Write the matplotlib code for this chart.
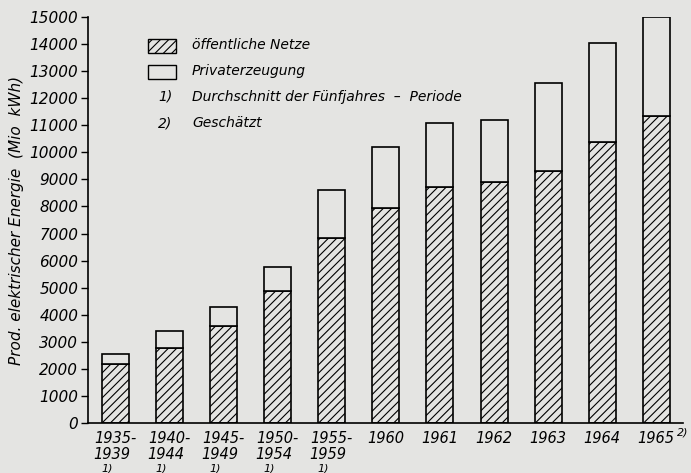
import matplotlib
matplotlib.use("Agg")
import matplotlib.pyplot as plt
from matplotlib.patches import Rectangle

periods = ["1935-\n1939\n1)", "1940-\n1944\n1)", "1945-\n1949\n1)", "1950-\n1954\n1)",
           "1955-\n1959\n1)", "1960", "1961", "1962", "1963", "1964", "1965"]
public = [2170, 2780, 3570, 4890, 6820, 7930, 8730, 8890, 9320, 10400, 11350]
total = [2550, 3390, 4270, 5770, 8610, 10200, 11070, 11190, 12560, 14030, 15000]
private = [t - p for t, p in zip(total, public)]
yticks = list(range(0, 15001, 1000))

bg = "#e4e4e2"
plt.rcParams["font.family"] = "DejaVu Sans"
plt.rcParams["font.style"] = "italic"
plt.rcParams["hatch.linewidth"] = 0.8

fig = plt.figure(figsize=(6.91, 4.73), dpi=100, facecolor=bg)
ax = fig.add_axes([0.1274, 0.1057, 0.8606, 0.8583], facecolor=bg)

x = list(range(len(periods)))
ax.bar(x, public, width=0.5, color=bg, edgecolor="black", hatch="////", linewidth=1.2)
ax.bar(x, private, bottom=public, width=0.5, color=bg, edgecolor="black", linewidth=1.2)

ax.set_xlim(-0.51, 10.49)
ax.set_ylim(0, 15000)
ax.set_yticks(yticks)
ax.set_yticklabels([str(v) for v in yticks], fontsize=11)
ax.set_xticks(x)
ax.set_xticklabels([p.split("\n")[0] for p in periods], fontsize=10.5)
ax.tick_params(axis="x", length=0, pad=6)
ax.tick_params(axis="y", length=5, width=1, pad=2)
for s in ["top", "right"]:
    ax.spines[s].set_visible(False)
ax.spines["left"].set_linewidth(1.2)
ax.spines["bottom"].set_linewidth(1.2)

# second and third lines of the period labels
for i, p in enumerate(periods):
    parts = p.split("\n")
    if len(parts) > 1:
        ax.annotate(parts[1], (i, 0), xytext=(-3, -23), textcoords="offset points",
                    ha="center", va="center", fontsize=10.5, annotation_clip=False)
        ax.annotate(parts[2], (i, 0), xytext=(-6, -33), textcoords="offset points",
                    ha="center", va="center", fontsize=8, annotation_clip=False)
ax.annotate("2)", (10, 0), xytext=(15, -7), textcoords="offset points",
            ha="left", va="center", fontsize=8, annotation_clip=False)

ax.set_ylabel("Prod. elektrischer Energie  (Mio  kWh)", fontsize=11, labelpad=4)

# legend
fig.patches.append(Rectangle((148 / 691, 1 - 53 / 473), 28 / 691, 14 / 473,
                             transform=fig.transFigure, facecolor=bg, edgecolor="black",
                             hatch="////", linewidth=1))
fig.patches.append(Rectangle((148 / 691, 1 - 79 / 473), 28 / 691, 14 / 473,
                             transform=fig.transFigure, facecolor=bg, edgecolor="black",
                             linewidth=1))
legend_lines = [("öffentliche Netze", 45), ("Privaterzeugung", 71),
                ("Durchschnitt der Fünfjahres  –  Periode", 97), ("Geschätzt", 123)]
for txt, y in legend_lines:
    fig.text(192 / 691, 1 - y / 473, txt, fontsize=10, va="center", ha="left")
fig.text(173 / 691, 1 - 97 / 473, "1)", fontsize=10, va="center", ha="right")
fig.text(172 / 691, 1 - 123 / 473, "2)", fontsize=10, va="center", ha="right")

fig.savefig("out.png", dpi=100, facecolor=bg)
